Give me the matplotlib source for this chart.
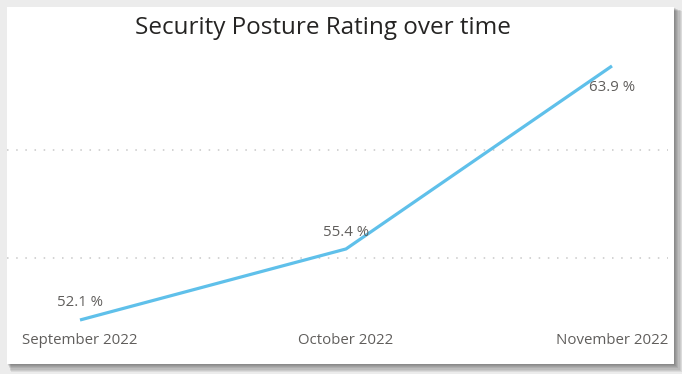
import matplotlib
matplotlib.use("Agg")
import matplotlib.pyplot as plt
from matplotlib.patches import Rectangle

months = ["September 2022", "October 2022", "November 2022"]
ratings = [52.1, 55.4, 63.9]
gridlines = [55, 60]

W, H = 682, 374
fig = plt.figure(figsize=(W / 100, H / 100), dpi=100)
fig.patch.set_facecolor("#ececec")

def px(x, y, w, h):
    return [x / W, 1 - (y + h) / H, w / W, h / H]

# shadow layers
bg = fig.add_axes([0, 0, 1, 1])
bg.set_xlim(0, W); bg.set_ylim(H, 0); bg.axis("off")
for i in range(7):
    d = i + 1
    bg.add_patch(Rectangle((7 + d * 0.5, 7 + d * 0.5), 667 + d * 0.6, 357 + d * 0.6,
                           facecolor="black", alpha=0.07, edgecolor="none"))
bg.add_patch(Rectangle((7, 7), 667, 357, facecolor="white", edgecolor="none"))

font = ["Open Sans", "DejaVu Sans"]

fig.text(323 / W, 1 - 28 / H, "Security Posture Rating over time", ha="center", va="center",
         fontsize=17.5, color="#252423", family=font, fontweight="normal")

ax = fig.add_axes(px(7, 40, 661, 290))
ax.set_facecolor("none")
x = list(range(len(months)))
sc = 266
ax.set_xlim(-(80 - 7) / sc, 2 + (668 - 612) / sc)
ys = 21.53
ax.set_ylim(52.1 - 10 / ys, 52.1 + 280 / ys)
for g in gridlines:
    ax.axhline(g, color="#c8c8c8", lw=1.1, ls=(0, (1, 5)), zorder=1)
ax.plot(x, ratings, color="#5FC0EA", lw=2.3, zorder=3, solid_capstyle="butt")
for s in ax.spines.values():
    s.set_visible(False)
ax.set_yticks([])
ax.set_xticks([])

offsets = [(0, 17), (0, 16), (0, -22)]
for xi, v, (dx, dy) in zip(x, ratings, offsets):
    ax.annotate(f"{v:.1f} %", (xi, v), xytext=(dx, dy), textcoords="offset pixels",
                ha="center", va="center", fontsize=10.8, color="#605e5c", family=font)

for xi, m in zip(x, months):
    ax.annotate(m, (xi, 0), xycoords=("data", "axes fraction"), xytext=(0, -10),
                textcoords="offset pixels", ha="center", va="center", fontsize=10.8,
                color="#605e5c", family=font)

fig.savefig("out.png", dpi=100, facecolor=fig.get_facecolor())
